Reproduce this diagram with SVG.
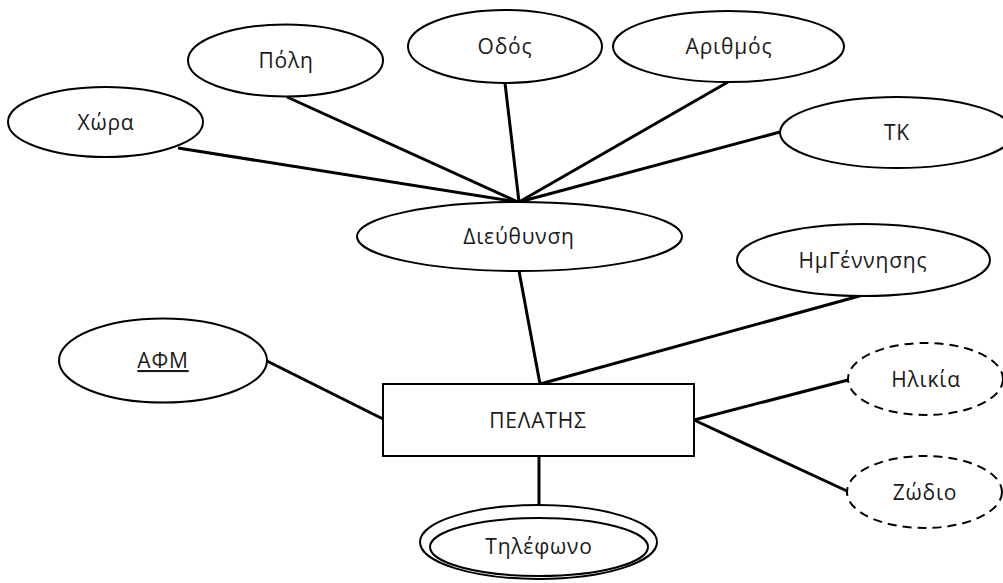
<svg xmlns="http://www.w3.org/2000/svg" width="1003" height="583" viewBox="0 0 1003 583">
<style>
.shape{fill:#fff;stroke:#000;stroke-width:2}
.dash{stroke-dasharray:9 6}
.conn line{stroke:#000;stroke-width:3;stroke-linecap:butt}
text{font-family:"Open Sans","Noto Sans",sans-serif;font-size:21px;letter-spacing:0.8px;fill:#1a1a1a;text-anchor:middle}
</style>
<rect width="1003" height="583" fill="#fff"/>
<g class="conn" id="connectors">
<line x1="178" y1="148" x2="518" y2="202"/>
<line x1="287" y1="97" x2="518" y2="202"/>
<line x1="505" y1="83" x2="519" y2="202"/>
<line x1="728" y1="82" x2="519" y2="202"/>
<line x1="780" y1="132" x2="519" y2="202"/>
<line x1="519" y1="271" x2="540" y2="384"/>
<line x1="863" y1="295" x2="540" y2="384"/>
<line x1="267" y1="361" x2="383" y2="419"/>
<line x1="694" y1="420" x2="848" y2="380"/>
<line x1="694" y1="420" x2="847" y2="491"/>
<line x1="539" y1="456" x2="539" y2="505"/>
</g>
<g id="chora"><ellipse class="shape" cx="105.5" cy="122" rx="97.5" ry="35"/><text x="106" y="130">Χώρα</text></g>
<g id="poli"><ellipse class="shape" cx="285.5" cy="60.5" rx="97.5" ry="36"/><text x="286" y="68">Πόλη</text></g>
<g id="odos"><ellipse class="shape" cx="505" cy="46.5" rx="97" ry="36.5"/><text x="505" y="54">Οδός</text></g>
<g id="arithmos"><ellipse class="shape" cx="728.5" cy="46.5" rx="115.5" ry="35.5"/><text x="729" y="54">Αριθμός</text></g>
<g id="tk"><ellipse class="shape" cx="897" cy="132.5" rx="117" ry="35.5"/><text x="897" y="140">ΤΚ</text></g>
<g id="dieuthynsi"><ellipse class="shape" cx="519.5" cy="236.5" rx="162.5" ry="34.5"/><text x="519" y="244">Διεύθυνση</text></g>
<g id="imgennisis"><ellipse class="shape" cx="863.5" cy="260" rx="126.5" ry="36"/><text x="863" y="268">ΗμΓέννησης</text></g>
<g id="afm"><ellipse class="shape" cx="163" cy="360.5" rx="104" ry="42"/><text x="163" y="368" text-decoration="underline">ΑΦΜ</text></g>
<g id="pelatis"><rect class="shape" x="383" y="384" width="311" height="72"/><text x="538" y="428">ΠΕΛΑΤΗΣ</text></g>
<g id="ilikia"><ellipse class="shape dash" cx="925.5" cy="379" rx="77.5" ry="36"/><text x="926" y="387">Ηλικία</text></g>
<g id="zodio"><ellipse class="shape dash" cx="924.5" cy="492" rx="77.5" ry="36"/><text x="925" y="500">Ζώδιο</text></g>
<g id="tilefono"><ellipse class="shape" cx="538.5" cy="542" rx="118.5" ry="37"/><ellipse class="shape" cx="539" cy="547" rx="109" ry="29"/><text x="539" y="554">Τηλέφωνο</text></g>
</svg>
